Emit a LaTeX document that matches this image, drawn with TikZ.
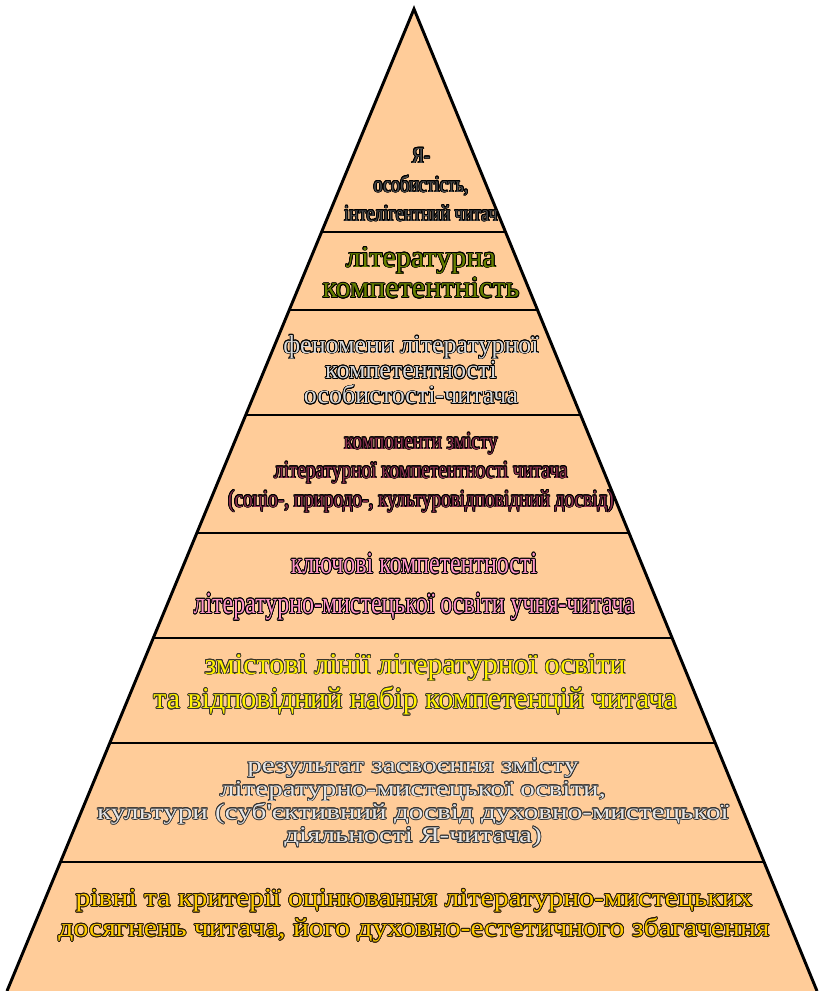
\documentclass[tikz,border=0pt]{standalone}
\usepackage{fontspec}
\setmainfont{Liberation Serif}
\newfontfamily\narrowfont[FakeStretch=0.78]{Liberation Serif}
\newfontfamily\widefont[FakeStretch=1.15]{Liberation Serif}
\newfontfamily\broadfont[FakeStretch=1.3]{Liberation Serif}
\usepackage{contour}
\contourlength{0.6pt}
\contournumber{16}
\usetikzlibrary{calc}
\definecolor{pyrfill}{RGB}{255,204,153}
\definecolor{olivetxt}{RGB}{102,128,0}
\definecolor{maroontxt}{RGB}{140,50,80}
\definecolor{pinktxt}{RGB}{255,150,200}
\definecolor{goldtxt}{RGB}{255,204,0}
\tikzstyle{layertext} = [align=center, inner sep=0pt]

\begin{document}
\begin{tikzpicture}[x=0.75pt, y=-0.75pt, line width=2.2pt]
\useasboundingbox (0,0) rectangle (818,991);
\coordinate (top) at (414,9);
\coordinate (bl) at (7,991);
\coordinate (br) at (817,991);
\fill[pyrfill] (top) -- (bl) -- (br) -- cycle;
\draw[line join=miter] (bl) -- (top) -- (br);
\foreach \ly in {232,310,415,533,638,743,862} {
  \pgfmathsetmacro{\t}{(\ly-9)/982}
  \draw ($(top)!\t!(bl)$) -- ($(top)!\t!(br)$);
}
% layers, top to bottom
\node[layertext, font=\narrowfont\fontsize{17.3}{21.75}\selectfont, text=black!70] (ja) at (421,185)
  {\contour{black}{Я-}\\\contour{black}{особистість,}\\\contour{black}{інтелігентний читач}};
\node[layertext, font=\fontsize{22.6}{23}\selectfont, text=olivetxt] (litcomp) at (421,273)
  {\contour{black}{літературна}\\\contour{black}{компетентність}};
\node[layertext, font=\fontsize{19.5}{19}\selectfont, text=white!85!black] (phen) at (411,370)
  {\contour{black}{феномени літературної}\\\contour{black}{компетентності}\\\contour{black}{особистості-читача}};
\node[layertext, font=\narrowfont\fontsize{18.5}{21.75}\selectfont, text=maroontxt] (compon) at (421,473)
  {\contour{black}{компоненти змісту}\\\contour{black}{літературної компетентності читача}\\\contour{black}{(соціо-, природо-, культуровідповідний досвід)}};
\node[layertext, font=\narrowfont\fontsize{23}{30}\selectfont, text=pinktxt] (keys) at (414,587)
  {\contour{black}{ключові компетентності}\\\contour{black}{літературно-мистецької освіти учня-читача}};
\node[layertext, font=\fontsize{22.5}{26}\selectfont, text=yellow] (lines) at (415,685)
  {\contour{black!80!olive}{змістові лінії літературної освіти}\\\contour{black!80!olive}{та відповідний набір компетенцій читача}};
\node[layertext, font=\broadfont\fontsize{16.8}{17.4}\selectfont, text=white!90!black] (result) at (413,803)
  {\contour{black!80}{результат засвоєння змісту}\\\contour{black!80}{літературно-мистецької освіти,}\\\contour{black!80}{культури (суб'єктивний досвід духовно-мистецької}\\\contour{black!80}{діяльності Я-читача)}};
\node[layertext, font=\widefont\fontsize{19.35}{22.5}\selectfont, text=goldtxt] (levels) at (414,916)
  {\contour{black!80!brown}{рівні та критерії оцінювання літературно-мистецьких}\\\contour{black!80!brown}{досягнень читача, його духовно-естетичного збагачення}};
\end{tikzpicture}
\end{document}
